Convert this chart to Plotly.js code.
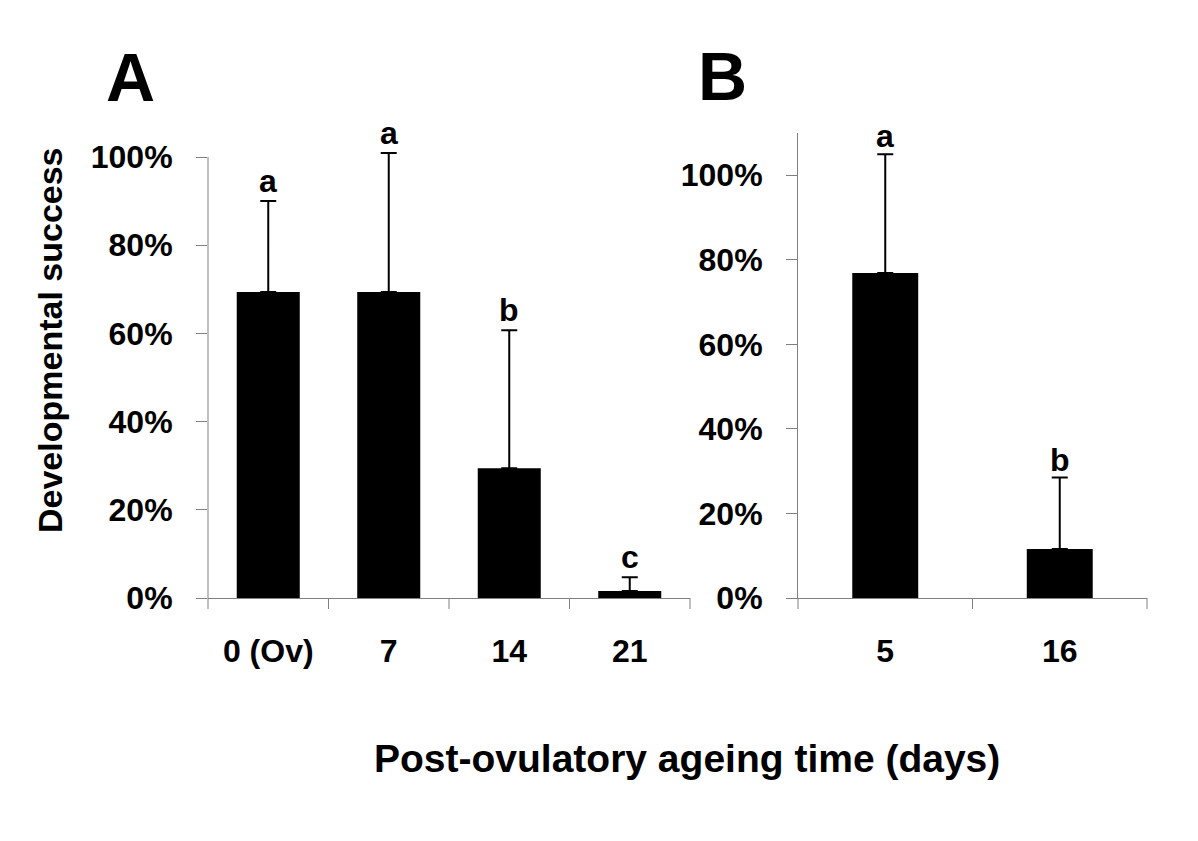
<!DOCTYPE html>
<html>
<head>
<meta charset="utf-8">
<script src="https://cdn.plot.ly/plotly-3.0.1.min.js"></script>
<style>html,body{margin:0;padding:0;background:#fff;}#chart{width:1198px;height:841px;}</style>
</head>
<body>
<div id="chart"></div>
<script>
// Panel A
var catsA = ['0 (Ov)', '7', '14', '21'];
var meansA = [69.4, 69.4, 29.4, 1.6];
var errA = [20.6, 31.5, 31.3, 3.1];
var lettersA = ['a', 'a', 'b', 'c'];
// Panel B
var catsB = ['5', '16'];
var meansB = [76.9, 11.6];
var errB = [28.1, 16.9];
var lettersB = ['a', 'b'];
var yTicks = [0, 20, 40, 60, 80, 100];
var yTickText = yTicks.map(function(v){ return v + '%'; });

var FONT = 'Liberation Sans, Arial, Helvetica, sans-serif';
var AXC = '#808080';

function zeros(n){ var a = []; for (var i = 0; i < n; i++) a.push(0); return a; }
function idx(arr){ return arr.map(function(_, i){ return i; }); }

var traceA = {
  type: 'bar', x: idx(catsA), y: meansA, xaxis: 'x', yaxis: 'y',
  marker: {color: '#000000', line: {width: 0}},
  width: 0.523, cliponaxis: false, hoverinfo: 'skip',
  error_y: {type: 'data', symmetric: false, array: errA, arrayminus: zeros(errA.length),
            color: '#000000', thickness: 2, width: 8}
};
var traceB = {
  type: 'bar', x: idx(catsB), y: meansB, xaxis: 'x2', yaxis: 'y2',
  marker: {color: '#000000', line: {width: 0}},
  width: 0.378, cliponaxis: false, hoverinfo: 'skip',
  error_y: {type: 'data', symmetric: false, array: errB, arrayminus: zeros(errB.length),
            color: '#000000', thickness: 2, width: 8}
};

var tickFont = {family: FONT, size: 32, color: '#000000', weight: 'bold'};

function xax(domain, anchor, cats){
  return {domain: domain, anchor: anchor, type: 'linear', range: [-0.5, cats.length - 0.5],
    showgrid: false, zeroline: false, autorange: false,
    showline: true, linecolor: AXC, linewidth: 1, ticks: '', tickmode: 'array',
    tickvals: idx(cats), ticktext: cats, tickangle: 0,
    tickfont: tickFont, ticklabelstandoff: 25, fixedrange: true};
}
function yax(domain, anchor, range, showline){
  return {domain: domain, anchor: anchor, range: range, autorange: false, showgrid: false, zeroline: false,
    showline: showline, linecolor: AXC, linewidth: 1, ticks: 'outside', ticklen: 11,
    tickcolor: AXC, tickwidth: 1, tickmode: 'array', tickvals: yTicks, ticktext: yTickText,
    tickfont: tickFont, ticklabelstandoff: 17, fixedrange: true};
}

var W = 1198, H = 841;
function px(x){ return x / W; }
function py(y){ return 1 - y / H; }

var annotations = [];
for (var i = 0; i < catsA.length; i++) {
  annotations.push({xref: 'x', yref: 'y', x: i, y: meansA[i] + errA[i], text: lettersA[i],
    showarrow: false, yanchor: 'bottom', xanchor: 'center', yshift: 0,
    font: {family: FONT, size: 32, color: '#000', weight: 'bold'}});
}
for (var j = 0; j < catsB.length; j++) {
  annotations.push({xref: 'x2', yref: 'y2', x: j, y: meansB[j] + errB[j], text: lettersB[j],
    showarrow: false, yanchor: 'bottom', xanchor: 'center', yshift: -2,
    font: {family: FONT, size: 32, color: '#000', weight: 'bold'}});
}
annotations.push({xref: 'paper', yref: 'paper', x: px(130), y: py(77), text: 'A', showarrow: false,
  xanchor: 'center', yanchor: 'middle', font: {family: FONT, size: 68, color: '#000', weight: 'bold'}});
annotations.push({xref: 'paper', yref: 'paper', x: px(722), y: py(76), text: 'B', showarrow: false,
  xanchor: 'center', yanchor: 'middle', font: {family: FONT, size: 68, color: '#000', weight: 'bold'}});
annotations.push({xref: 'paper', yref: 'paper', x: px(50), y: py(340), text: 'Developmental success',
  showarrow: false, textangle: -90, xanchor: 'center', yanchor: 'middle',
  font: {family: FONT, size: 34, color: '#000', weight: 'bold'}});
annotations.push({xref: 'paper', yref: 'paper', x: px(687), y: py(758), text: 'Post-ovulatory ageing time (days)',
  showarrow: false, xanchor: 'center', yanchor: 'middle',
  font: {family: FONT, size: 39, color: '#000', weight: 'bold'}});

// Panel A: 0 -> y 598px, 100 -> y 157px; range extended to 104 so the tallest error bar shows
var aTop = 157 - 4 * (598 - 157) / 100;
var layout = {
  width: W, height: H,
  margin: {l: 0, r: 0, t: 0, b: 0},
  paper_bgcolor: '#ffffff', plot_bgcolor: 'rgba(0,0,0,0)',
  showlegend: false,
  xaxis: xax([px(208), px(690)], 'y', catsA),
  yaxis: yax([py(598), py(aTop)], 'x', [0, 104], false),
  xaxis2: xax([px(798), px(1147)], 'y2', catsB),
  yaxis2: yax([py(598), py(133)], 'x2', [0, 110], true),
  annotations: annotations,
  shapes: []
};

// y axis line of panel A only up to 100%
layout.shapes.push({type: 'line', xref: 'x domain', yref: 'y', x0: 0, x1: 0, y0: 0, y1: 100,
  line: {color: AXC, width: 1}, layer: 'above'});
// category boundary ticks, 10px below the x axis
function addTicks(xref, n){
  for (var k = 0; k <= n; k++) {
    layout.shapes.push({type: 'line', xref: xref + ' domain', yref: 'paper',
      x0: k / n, x1: k / n, y0: py(598), y1: py(609), line: {color: AXC, width: 1}, layer: 'above'});
  }
}
addTicks('x', catsA.length);
addTicks('x2', catsB.length);

Plotly.newPlot('chart', [traceA, traceB], layout, {displayModeBar: false, staticPlot: true});
</script>
</body>
</html>
